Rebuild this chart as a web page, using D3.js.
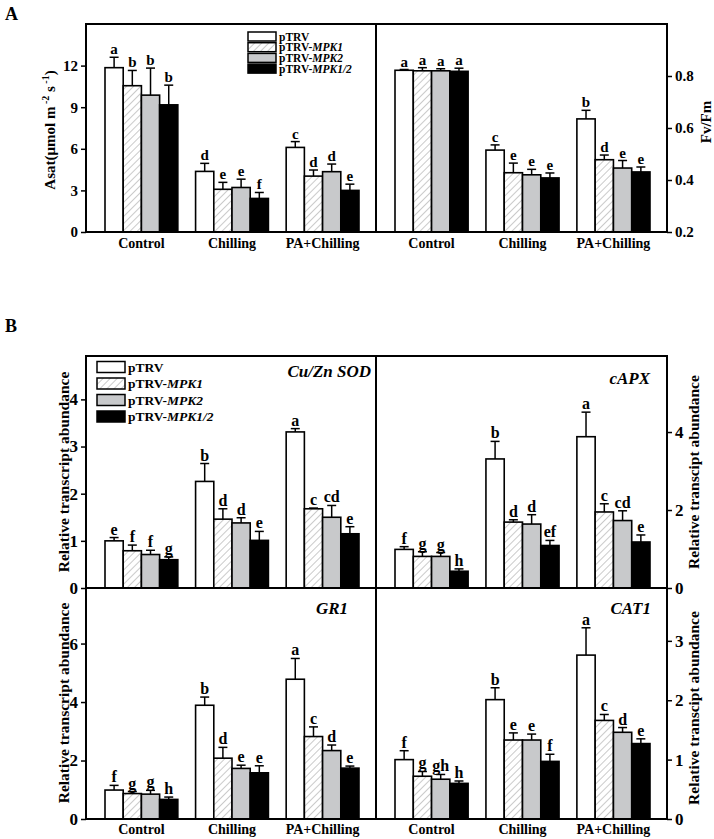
<!DOCTYPE html>
<html><head><meta charset="utf-8">
<script src="https://cdn.jsdelivr.net/npm/d3@7"></script>
<style>body{margin:0;background:#fff}svg{display:block}text{font-family:"Liberation Serif","Times New Roman",serif;font-weight:bold}</style>
</head><body><svg id="c" width="714" height="839"></svg>
<script>
const groups = ["Control","Chilling","PA+Chilling"];
const series = ["pTRV","pTRV-MPK1","pTRV-MPK2","pTRV-MPK1/2"];
const legendMain = ["pTRV","pTRV-","pTRV-","pTRV-"];
const legendItal = ["","MPK1","MPK2","MPK1/2"];

// Asat
const asatVals = [[11.85,4.37,6.1],[10.55,3.08,4.03],[9.87,3.21,4.35],[9.17,2.42,3.0]];
const asatErr  = [[0.75,0.58,0.42],[1.1,0.5,0.44],[1.95,0.6,0.55],[1.42,0.43,0.45]];
const asatLet  = [["a","d","c"],["b","e","d"],["b","e","d"],["b","f","e"]];
const asatTicks = [0,3,6,9,12];
// Fv/Fm
const fvVals = [[0.822,0.515,0.635],[0.82,0.428,0.478],[0.82,0.42,0.446],[0.818,0.408,0.431]];
const fvErr  = [[0.003,0.02,0.033],[0.012,0.037,0.018],[0.008,0.021,0.029],[0.012,0.019,0.019]];
const fvLet  = [["a","c","b"],["a","e","d"],["a","e","e"],["a","e","e"]];
const fvTicks = [0.2,0.4,0.6,0.8];
// Cu/Zn SOD
const sodVals = [[1.0,2.26,3.31],[0.79,1.46,1.68],[0.71,1.38,1.5],[0.6,1.01,1.15]];
const sodErr  = [[0.07,0.38,0.07],[0.12,0.22,0.015],[0.09,0.11,0.25],[0.06,0.19,0.15]];
const sodLet  = [["e","b","a"],["f","d","c"],["f","d","cd"],["g","e","e"]];
const sodTicks = [0,1,2,3,4];
// cAPX
const apxVals = [[0.99,3.31,3.88],[0.81,1.69,1.95],[0.81,1.64,1.73],[0.43,1.09,1.18]];
const apxErr  = [[0.07,0.45,0.63],[0.12,0.06,0.21],[0.1,0.24,0.25],[0.06,0.13,0.18]];
const apxLet  = [["f","b","a"],["g","d","c"],["g","d","cd"],["h","ef","e"]];
const apxTicks = [0,2,4];
// GR1
const grVals = [[0.99,3.89,4.78],[0.87,2.08,2.82],[0.85,1.73,2.34],[0.67,1.58,1.74]];
const grErr  = [[0.16,0.28,0.71],[0.07,0.37,0.33],[0.13,0.11,0.19],[0.08,0.24,0.07]];
const grLet  = [["f","b","a"],["g","d","c"],["g","e","d"],["h","e","e"]];
const grTicks = [0,2,4,6];
// CAT1
const catVals = [[1.0,2.01,2.76],[0.72,1.33,1.66],[0.67,1.33,1.46],[0.6,0.97,1.27]];
const catErr  = [[0.15,0.2,0.46],[0.08,0.12,0.1],[0.08,0.1,0.08],[0.04,0.12,0.08]];
const catLet  = [["f","b","a"],["g","e","c"],["gh","e","d"],["h","f","e"]];
const catTicks = [0,1,2,3];

const svg = d3.select("#c");
const defs = svg.append("defs");
const pat = defs.append("pattern").attr("id","hatch").attr("patternUnits","userSpaceOnUse")
  .attr("width",5).attr("height",5).attr("patternTransform","rotate(45)");
pat.append("rect").attr("width",5).attr("height",5).attr("fill","#fff");
pat.append("line").attr("x1",0).attr("y1",0).attr("x2",0).attr("y2",5).attr("stroke","#8a8a8a").attr("stroke-width",0.9);
const fills = ["#ffffff","url(#hatch)","#c8c9cb","#000000"];

function panel(o){
  const {x0,x1,y0,y1,domain,ticks,fmt,side,vals,errs,lets,letSize,tickSize,gene,geneX,geneY,xlabels,xlabY} = o;
  const g = svg.append("g");
  const x = d3.scaleBand().domain(groups).range([x0+19,x1-17]).paddingInner(0.196).paddingOuter(0);
  const xs = d3.scaleBand().domain(d3.range(4)).range([0,x.bandwidth()]).padding(0);
  const y = d3.scaleLinear().domain(domain).range([y1,y0]);
  series.forEach((s,si)=>{
    groups.forEach((gr,gi)=>{
      const v = vals[si][gi], e = errs[si][gi];
      const bx = x(gr)+xs(si), bw = xs.bandwidth(), cx = bx+bw/2;
      g.append("rect").attr("x",bx).attr("y",y(v)).attr("width",bw).attr("height",y(domain[0])-y(v))
        .attr("fill",fills[si]).attr("stroke","#000").attr("stroke-width",1.6);
      g.append("line").attr("x1",cx).attr("x2",cx).attr("y1",y(v)).attr("y2",y(v+e)).attr("stroke","#000").attr("stroke-width",1.5);
      g.append("line").attr("x1",cx-4.5).attr("x2",cx+4.5).attr("y1",y(v+e)).attr("y2",y(v+e)).attr("stroke","#000").attr("stroke-width",1.5);
      g.append("text").attr("x",cx).attr("y",y(v+e)-3).attr("text-anchor","middle").attr("font-size",letSize).text(lets[si][gi]);
    });
  });
  g.append("rect").attr("x",x0).attr("y",y0).attr("width",x1-x0).attr("height",y1-y0)
    .attr("fill","none").attr("stroke","#000").attr("stroke-width",2);
  if(side){
    const ax = side==="left" ? d3.axisLeft(y) : d3.axisRight(y);
    ax.tickValues(ticks).tickSize(5).tickPadding(3).tickFormat(fmt);
    const a = svg.append("g").attr("transform",`translate(${side==="left"?x0:x1},0)`).call(ax);
    a.select(".domain").remove();
    a.selectAll(".tick line").attr("stroke","#000").attr("stroke-width",1.5);
    a.selectAll(".tick text").attr("font-size",tickSize).attr("fill","#000")
      .style("font-family",'"Liberation Serif",serif').style("font-weight","bold");
  }
  if(gene){
    svg.append("text").attr("x",geneX).attr("y",geneY).attr("text-anchor","end").attr("font-size",17)
      .attr("font-style","italic").text(gene);
  }
  if(xlabels){
    groups.forEach(gr=>{
      svg.append("text").attr("x",x(gr)+x.bandwidth()/2).attr("y",xlabY).attr("text-anchor","middle")
        .attr("font-size",14).text(gr);
    });
  }
}

// Panel A
panel({x0:86,x1:376,y0:24,y1:232,domain:[0,15],ticks:asatTicks,fmt:d3.format("d"),side:"left",
  vals:asatVals,errs:asatErr,lets:asatLet,letSize:15,tickSize:15,xlabels:true,xlabY:248});
panel({x0:376,x1:667,y0:24,y1:232,domain:[0.2,1.0],ticks:fvTicks,fmt:d3.format(".1f"),side:"right",
  vals:fvVals,errs:fvErr,lets:fvLet,letSize:15,tickSize:15,xlabels:true,xlabY:248});
// Panel B
panel({x0:86,x1:376,y0:356,y1:588,domain:[0,4.92],ticks:sodTicks,fmt:d3.format("d"),side:"left",
  vals:sodVals,errs:sodErr,lets:sodLet,letSize:16,tickSize:17,gene:"Cu/Zn SOD",geneX:371,geneY:377});
panel({x0:376,x1:667,y0:356,y1:588,domain:[0,5.95],ticks:apxTicks,fmt:d3.format("d"),side:"right",
  vals:apxVals,errs:apxErr,lets:apxLet,letSize:16,tickSize:17,gene:"cAPX",geneX:650,geneY:384});
panel({x0:86,x1:376,y0:588,y1:819,domain:[0,7.9],ticks:grTicks,fmt:d3.format("d"),side:"left",
  vals:grVals,errs:grErr,lets:grLet,letSize:16,tickSize:17,gene:"GR1",geneX:348,geneY:614,xlabels:true,xlabY:834});
panel({x0:376,x1:667,y0:588,y1:819,domain:[0,3.89],ticks:catTicks,fmt:d3.format("d"),side:"right",
  vals:catVals,errs:catErr,lets:catLet,letSize:16,tickSize:17,gene:"CAT1",geneX:651,geneY:614,xlabels:true,xlabY:834});

// Legends
function legend(lx,ys,bw,bh,fs){
  series.forEach((s,i)=>{
    svg.append("rect").attr("x",lx).attr("y",ys[i]-bh/2).attr("width",bw).attr("height",bh)
      .attr("fill",fills[i]).attr("stroke","#000").attr("stroke-width",1.5);
    const t = svg.append("text").attr("x",lx+bw+3).attr("y",ys[i]+fs*0.35).attr("font-size",fs);
    t.append("tspan").text(legendMain[i]);
    t.append("tspan").attr("font-style","italic").text(legendItal[i]);
  });
}
legend(248,[36.5,47.2,57.9,68.6],28,9,11.5);
legend(97,[367,383.5,400,416.5],28,11,13.5);

// Panel letters
svg.append("text").attr("x",5).attr("y",20).attr("font-size",18).text("A");
svg.append("text").attr("x",5).attr("y",332).attr("font-size",18).text("B");

// Y axis titles
const asatT = svg.append("text").attr("transform","translate(55,130) rotate(-90)").attr("text-anchor","middle").attr("font-size",15);
asatT.append("tspan").text("Asat(μmol m");
asatT.append("tspan").attr("font-size",10).attr("dy",-6).text(" -2");
asatT.append("tspan").attr("dy",6).text(" s");
asatT.append("tspan").attr("font-size",10).attr("dy",-6).text(" -1");
asatT.append("tspan").attr("dy",6).text(")");
svg.append("text").attr("transform","translate(711,122) rotate(-90)").attr("text-anchor","middle").attr("font-size",15).text("Fv/Fm");
svg.append("text").attr("transform","translate(69,472) rotate(-90)").attr("text-anchor","middle").attr("font-size",15.5).text("Relative transcript abundance");
svg.append("text").attr("transform","translate(69,703) rotate(-90)").attr("text-anchor","middle").attr("font-size",15.5).text("Relative transcript abundance");
svg.append("text").attr("transform","translate(699,472) rotate(-90)").attr("text-anchor","middle").attr("font-size",15.5).text("Relative transcipt abundance");
svg.append("text").attr("transform","translate(699,708) rotate(-90)").attr("text-anchor","middle").attr("font-size",15.5).text("Relative transcipt abundance");
</script></body></html>
